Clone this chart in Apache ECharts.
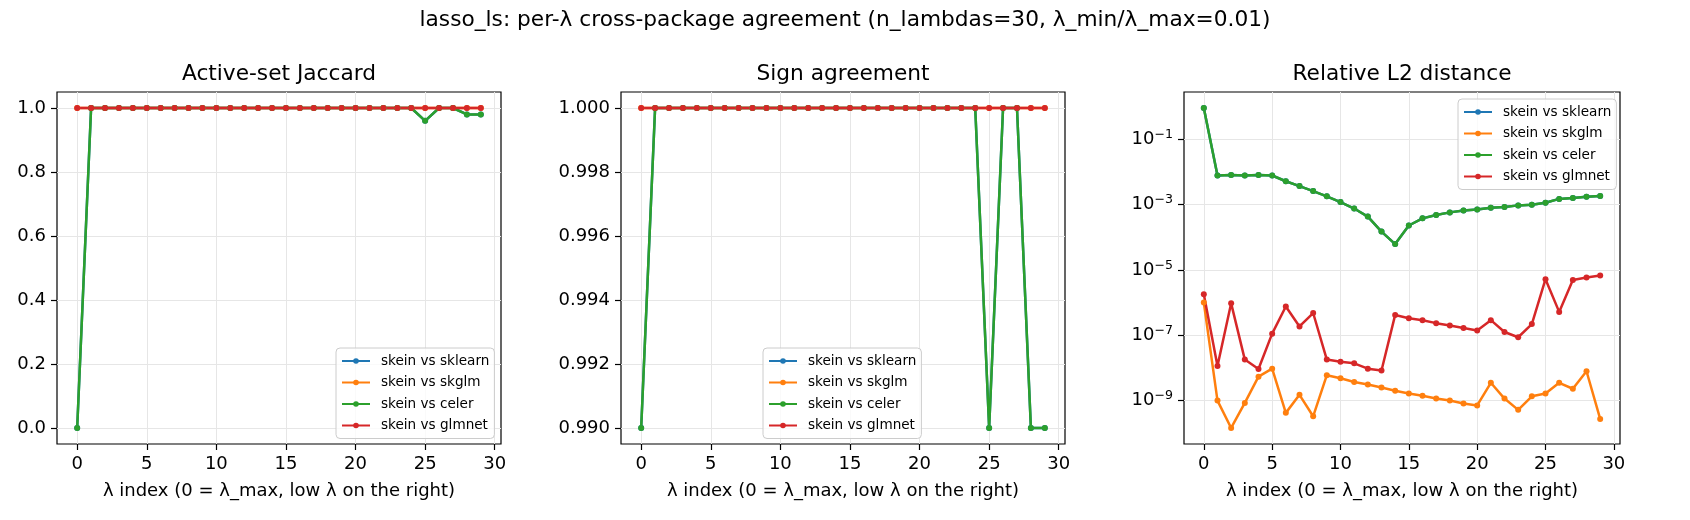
<!DOCTYPE html>
<html>
<head>
<meta charset="utf-8">
<script src="https://cdn.jsdelivr.net/npm/echarts@6/dist/echarts.min.js"></script>
<style>
  html, body { margin: 0; padding: 0; background: #fff; }
  #chart { width: 1690px; height: 520px; }
</style>
</head>
<body>
<div id="chart"></div>
<script>
// lambda index on the x axis
const lambdaIdx = [0, 1, 2, 3, 4, 5, 6, 7, 8, 9, 10, 11, 12, 13, 14, 15, 16, 17, 18, 19, 20, 21, 22, 23, 24, 25, 26, 27, 28, 29]
const seriesNames = ['skein vs sklearn', 'skein vs skglm', 'skein vs celer', 'skein vs glmnet']
const colors = ['#1f77b4', '#ff7f0e', '#2ca02c', '#d62728']

// Active-set Jaccard
const jaccardSklearn = [0, 1, 1, 1, 1, 1, 1, 1, 1, 1, 1, 1, 1, 1, 1, 1, 1, 1, 1, 1, 1, 1, 1, 1, 1, 0.96, 1, 1, 0.98, 0.98]
const jaccardSkglm = [1, 1, 1, 1, 1, 1, 1, 1, 1, 1, 1, 1, 1, 1, 1, 1, 1, 1, 1, 1, 1, 1, 1, 1, 1, 1, 1, 1, 1, 1]
const jaccardCeler = [0, 1, 1, 1, 1, 1, 1, 1, 1, 1, 1, 1, 1, 1, 1, 1, 1, 1, 1, 1, 1, 1, 1, 1, 1, 0.96, 1, 1, 0.98, 0.98]
const jaccardGlmnet = [1, 1, 1, 1, 1, 1, 1, 1, 1, 1, 1, 1, 1, 1, 1, 1, 1, 1, 1, 1, 1, 1, 1, 1, 1, 1, 1, 1, 1, 1]

// Sign agreement
const signSklearn = [0.99, 1, 1, 1, 1, 1, 1, 1, 1, 1, 1, 1, 1, 1, 1, 1, 1, 1, 1, 1, 1, 1, 1, 1, 1, 0.99, 1, 1, 0.99, 0.99]
const signSkglm = [1, 1, 1, 1, 1, 1, 1, 1, 1, 1, 1, 1, 1, 1, 1, 1, 1, 1, 1, 1, 1, 1, 1, 1, 1, 1, 1, 1, 1, 1]
const signCeler = [0.99, 1, 1, 1, 1, 1, 1, 1, 1, 1, 1, 1, 1, 1, 1, 1, 1, 1, 1, 1, 1, 1, 1, 1, 1, 0.99, 1, 1, 0.99, 0.99]
const signGlmnet = [1, 1, 1, 1, 1, 1, 1, 1, 1, 1, 1, 1, 1, 1, 1, 1, 1, 1, 1, 1, 1, 1, 1, 1, 1, 1, 1, 1, 1, 1]

// Relative L2 distance (log scale)
const relSklearn = [9.1e-1, 7.8e-3, 8.1e-3, 7.8e-3, 8.1e-3, 7.8e-3, 5.2e-3, 3.7e-3, 2.6e-3, 1.8e-3, 1.2e-3, 7.6e-4, 4.3e-4, 1.5e-4, 6.2e-5, 2.3e-4, 3.8e-4, 4.8e-4, 5.8e-4, 6.6e-4, 7.1e-4, 8.1e-4, 8.5e-4, 9.5e-4, 1.0e-3, 1.15e-3, 1.5e-3, 1.6e-3, 1.75e-3, 1.85e-3]
const relSkglm = [1.0e-6, 1.0e-9, 1.45e-10, 8.5e-10, 5.4e-9, 9.5e-9, 4.2e-10, 1.5e-9, 3.3e-10, 6.0e-9, 4.8e-9, 3.7e-9, 3.1e-9, 2.5e-9, 2.0e-9, 1.65e-9, 1.4e-9, 1.15e-9, 1.0e-9, 8.1e-10, 7.1e-10, 3.5e-9, 1.15e-9, 5.2e-10, 1.35e-9, 1.65e-9, 3.5e-9, 2.3e-9, 7.9e-9, 2.75e-10]
const relCeler = [9.1e-1, 7.8e-3, 8.1e-3, 7.8e-3, 8.1e-3, 7.8e-3, 5.2e-3, 3.7e-3, 2.6e-3, 1.8e-3, 1.2e-3, 7.6e-4, 4.3e-4, 1.5e-4, 6.2e-5, 2.3e-4, 3.8e-4, 4.8e-4, 5.8e-4, 6.6e-4, 7.1e-4, 8.1e-4, 8.5e-4, 9.5e-4, 1.0e-3, 1.15e-3, 1.5e-3, 1.6e-3, 1.75e-3, 1.85e-3]
const relGlmnet = [1.8e-6, 1.15e-8, 9.5e-7, 1.8e-8, 9.3e-9, 1.12e-7, 7.6e-7, 1.86e-7, 4.8e-7, 1.8e-8, 1.55e-8, 1.38e-8, 9.5e-9, 8.3e-9, 4.2e-7, 3.3e-7, 2.9e-7, 2.35e-7, 2.0e-7, 1.66e-7, 1.41e-7, 2.9e-7, 1.26e-7, 8.7e-8, 2.2e-7, 5.2e-6, 5.2e-7, 4.9e-6, 5.9e-6, 6.8e-6]

const xTicks = [0, 5, 10, 15, 20, 25, 30]
const jaccardTicks = [0, 0.2, 0.4, 0.6, 0.8, 1.0]
const signTicks = [0.990, 0.992, 0.994, 0.996, 0.998, 1.000]
const logTicks = [-9, -7, -5, -3, -1]  // decades labelled on the log panel

const FONT = 'DejaVu Sans'
const grids = [
  { left: 57, top: 92, width: 444, height: 352 },
  { left: 621, top: 92, width: 444, height: 352 },
  { left: 1184, top: 92, width: 436, height: 352 }
]
const panelTitles = ['Active-set Jaccard', 'Sign agreement', 'Relative L2 distance']
const legendPos = [
  { left: 336, top: 348 },
  { left: 763, top: 348 },
  { left: 1458, top: 99 }
]

const tickStyle = (ticks) => ({ show: true, inside: false, length: 6, lineStyle: { color: '#000', width: 1.2 }, customValues: ticks })

const xAxisCfg = (i) => ({
  type: 'value',
  gridIndex: i,
  min: -1.45,
  max: 30.45,
  name: 'λ index (0 = λ_max, low λ on the right)',
  nameLocation: 'middle',
  nameGap: 38,
  nameTextStyle: { fontFamily: FONT, fontSize: 18, color: '#000' },
  axisLine: { show: false, onZero: false },
  axisTick: tickStyle(xTicks),
  axisLabel: { fontFamily: FONT, fontSize: 18, color: '#000', margin: 11, customValues: xTicks },
  splitLine: { show: true, lineStyle: { color: '#e6e6e6', width: 1 } }
})

const yAxisCfg = (i, min, max, ticks, fmt, rich) => ({
  type: 'value',
  gridIndex: i,
  min: min,
  max: max,
  axisLine: { show: false, onZero: false },
  axisTick: tickStyle(ticks),
  axisLabel: { fontFamily: FONT, fontSize: 18, color: '#000', margin: 11, customValues: ticks, formatter: fmt, rich: rich },
  splitLine: { show: true, lineStyle: { color: '#e6e6e6', width: 1 } }
})

const makeSeries = (values, k, panel, transform) => ({
  name: seriesNames[k],
  type: 'line',
  xAxisIndex: panel,
  yAxisIndex: panel,
  data: lambdaIdx.map((x, j) => [x, transform ? transform(values[j]) : values[j]]),
  symbol: 'circle',
  symbolSize: 6,
  showSymbol: true,
  lineStyle: { color: colors[k], width: 2.5 },
  itemStyle: { color: colors[k] },
  emphasis: { disabled: true },
  animation: false
})

const panelData = [
  [jaccardSklearn, jaccardSkglm, jaccardCeler, jaccardGlmnet],
  [signSklearn, signSkglm, signCeler, signGlmnet],
  [relSklearn, relSkglm, relCeler, relGlmnet]
]

const series = []
panelData.forEach((arrs, p) => {
  arrs.forEach((vals, k) => {
    series.push(makeSeries(vals, k, p, p === 2 ? Math.log10 : null))
  })
})

const option = {
  backgroundColor: '#fff',
  animation: false,
  title: [
    {
      text: 'lasso_ls: per-λ cross-package agreement (n_lambdas=30, λ_min/λ_max=0.01)',
      left: 845, top: 9, textAlign: 'center', padding: 0,
      textStyle: { fontFamily: FONT, fontSize: 21.7, fontWeight: 'normal', color: '#000' }
    }
  ].concat(panelTitles.map((t, i) => ({
    text: t,
    left: grids[i].left + grids[i].width / 2, top: 63, textAlign: 'center', padding: 0,
    textStyle: { fontFamily: FONT, fontSize: 21.7, fontWeight: 'normal', color: '#000' }
  }))),
  legend: legendPos.map((pos) => ({
    data: seriesNames,
    orient: 'vertical',
    left: pos.left,
    top: pos.top,
    padding: [6, 5, 6, 5],
    itemWidth: 28,
    itemHeight: 7,
    itemGap: 7.5,
    backgroundColor: 'rgba(255,255,255,0.8)',
    borderColor: '#cccccc',
    borderWidth: 1,
    borderRadius: 4,
    selectedMode: false,
    textStyle: { fontFamily: FONT, fontSize: 13.6, color: '#000', padding: [0, 0, 0, 6] }
  })),
  grid: grids.map((g) => Object.assign({ show: true, borderColor: '#000', borderWidth: 1.2, backgroundColor: 'transparent' }, g)),
  xAxis: [xAxisCfg(0), xAxisCfg(1), xAxisCfg(2)],
  yAxis: [
    yAxisCfg(0, -0.05, 1.05, jaccardTicks, (v) => v.toFixed(1)),
    yAxisCfg(1, 0.9895, 1.0005, signTicks, (v) => v.toFixed(3)),
    yAxisCfg(2, -10.33, 0.45, logTicks, (v) => '10{sup|−' + Math.abs(Math.round(v)) + '}', {
      sup: { fontFamily: FONT, fontSize: 12.6, color: '#000', padding: [0, 0, 9, 0] }
    })
  ],
  series: series
}

const chart = echarts.init(document.getElementById('chart'), null, { renderer: 'canvas' })
chart.setOption(option)
window.addEventListener('resize', () => chart.resize())
</script>
</body>
</html>
